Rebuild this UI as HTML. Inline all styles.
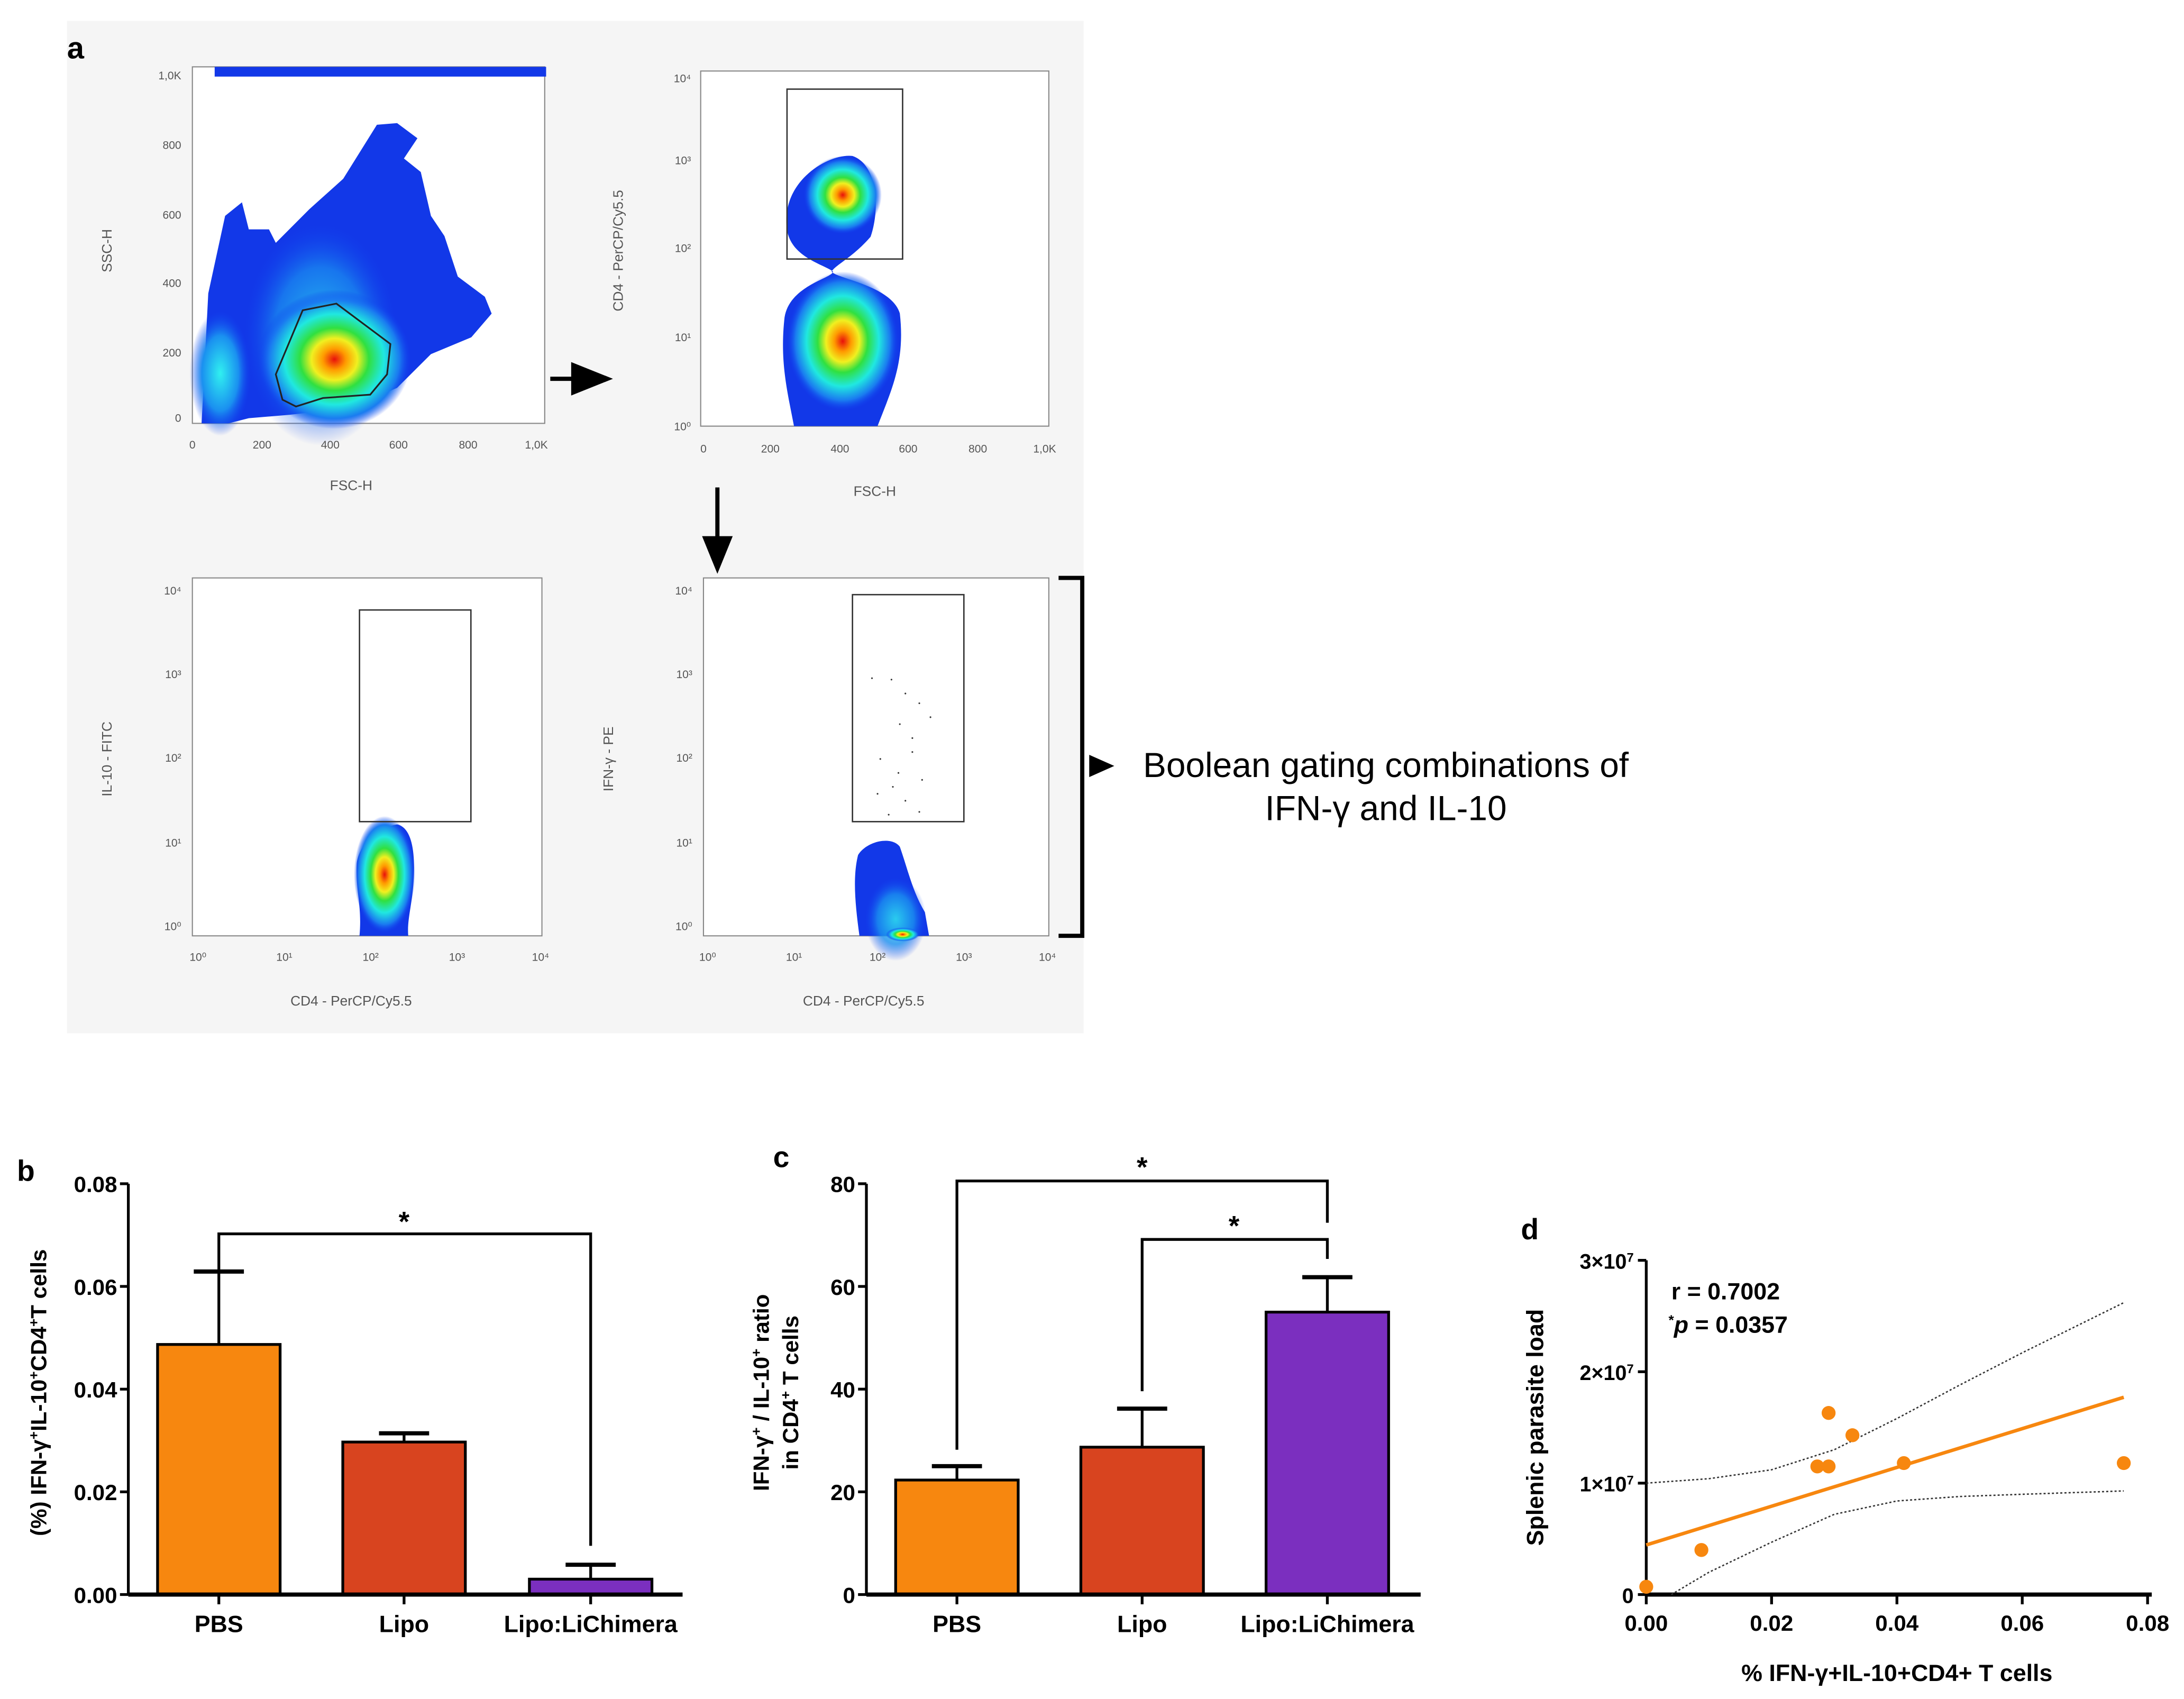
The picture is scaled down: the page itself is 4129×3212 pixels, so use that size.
<!DOCTYPE html>
<html><head><meta charset="utf-8"><style>
html,body{margin:0;padding:0;background:#fff;}
svg{display:block;}
text{font-family:"Liberation Sans",Arial,sans-serif;}
</style></head><body>
<svg id="fig" width="4129" height="3212" viewBox="0 0 1568 1220" xmlns="http://www.w3.org/2000/svg">
<defs>
<radialGradient id="jet" cx="0.5" cy="0.5" r="0.5">
<stop offset="0" stop-color="#e8100c"/><stop offset="0.15" stop-color="#ff9a00"/><stop offset="0.3" stop-color="#f0f020"/><stop offset="0.45" stop-color="#30e040"/><stop offset="0.65" stop-color="#20e8e0"/><stop offset="0.85" stop-color="#1a7cf0"/><stop offset="1" stop-color="#1040f0" stop-opacity="0"/>
</radialGradient>
<radialGradient id="jetc" cx="0.5" cy="0.5" r="0.5">
<stop offset="0" stop-color="#30f0f0"/><stop offset="0.6" stop-color="#1a90f0"/><stop offset="1" stop-color="#1040f0" stop-opacity="0"/>
</radialGradient>
</defs>

<g>
<rect x="48" y="15" width="730" height="727" fill="#f5f5f5"/>
<text x="48" y="42" font-size="22" font-weight="bold">a</text>

<g>
<rect x="138" y="48" width="253" height="256" fill="#fff" stroke="#888" stroke-width="0.8"/>
<rect x="154" y="48" width="238" height="7" fill="#1238e8"/>
<polygon fill="#1238e8" points="144.6,304 149.4,210.7 161.5,155 173.6,145.3 178.5,164.7 193,164.7 197.9,174.4 222,150.2 246.3,128.4 270.5,89.6 285,88.4 299.6,99.3 289.9,113.8 302,123.5 309.3,155 319,169.5 328.6,198.6 348,213.1 352.9,225.2 338.3,242.2 309.3,254.3 285,278.5 251.1,293 207.5,297.9 178.5,300.3 163.9,304"/>
<ellipse cx="230" cy="240" rx="55" ry="80" fill="url(#jetc)" opacity="0.7"/>
<ellipse cx="158" cy="268" rx="22" ry="45" fill="url(#jetc)"/>
<ellipse cx="240" cy="258" rx="55" ry="50" fill="url(#jet)"/>
<polygon fill="none" stroke="#222" stroke-width="1.2" points="197.9,268.8 217.2,222.8 241.4,218 280.2,247 277.8,268.8 265.7,283.4 231.8,285.8 212.4,291.9 202.7,287"/>
<g font-size="8" fill="#555">
<text x="138" y="322" text-anchor="middle">0</text><text x="188" y="322" text-anchor="middle">200</text><text x="237" y="322" text-anchor="middle">400</text><text x="286" y="322" text-anchor="middle">600</text><text x="336" y="322" text-anchor="middle">800</text><text x="385" y="322" text-anchor="middle">1,0K</text>
<text x="130" y="303" text-anchor="end">0</text><text x="130" y="256" text-anchor="end">200</text><text x="130" y="206" text-anchor="end">400</text><text x="130" y="157" text-anchor="end">600</text><text x="130" y="107" text-anchor="end">800</text><text x="130" y="57" text-anchor="end">1,0K</text>
<text x="252" y="352" text-anchor="middle" font-size="10">FSC-H</text>
<text transform="translate(80,180) rotate(-90)" text-anchor="middle" font-size="10">SSC-H</text>
</g>
</g>

<g>
<rect x="503" y="51" width="250" height="255" fill="#fff" stroke="#888" stroke-width="0.8"/>
<path fill="#1238e8" d="M565,165 C560,130 595,110 612,112 C630,118 632,150 625,170 C612,185 600,190 597,195 C600,200 640,205 646,225 C650,260 640,280 630,306 L570,306 C565,280 560,260 563,230 C565,205 598,200 598,195 C592,190 568,185 565,165 Z"/>
<ellipse cx="605" cy="140" rx="28" ry="28" fill="url(#jet)"/>
<ellipse cx="605" cy="245" rx="40" ry="50" fill="url(#jet)"/>
<rect x="565" y="64" width="83" height="122" fill="none" stroke="#333" stroke-width="1"/>
<g font-size="8" fill="#555">
<text x="505" y="325" text-anchor="middle">0</text><text x="553" y="325" text-anchor="middle">200</text><text x="603" y="325" text-anchor="middle">400</text><text x="652" y="325" text-anchor="middle">600</text><text x="702" y="325" text-anchor="middle">800</text><text x="750" y="325" text-anchor="middle">1,0K</text>
<text x="496" y="309" text-anchor="end">10⁰</text><text x="496" y="245" text-anchor="end">10¹</text><text x="496" y="181" text-anchor="end">10²</text><text x="496" y="118" text-anchor="end">10³</text><text x="496" y="59" text-anchor="end">10⁴</text>
<text x="628" y="356" text-anchor="middle" font-size="10">FSC-H</text>
<text transform="translate(447,180) rotate(-90)" text-anchor="middle" font-size="10">CD4 - PerCP/Cy5.5</text>
</g>
</g>

<g>
<rect x="138" y="415" width="251" height="257" fill="#fff" stroke="#888" stroke-width="0.8"/>
<path fill="#1238e8" d="M258,672 C260,650 255,640 256,620 C258,605 272,594 285,592 C295,594 298,610 297,630 C296,650 292,660 293,672 Z"/>
<ellipse cx="276" cy="628" rx="22" ry="42" fill="url(#jet)"/>
<rect x="258" y="438" width="80" height="152" fill="none" stroke="#333" stroke-width="1"/>
<g font-size="8" fill="#555">
<text x="142" y="690" text-anchor="middle">10⁰</text><text x="204" y="690" text-anchor="middle">10¹</text><text x="266" y="690" text-anchor="middle">10²</text><text x="328" y="690" text-anchor="middle">10³</text><text x="388" y="690" text-anchor="middle">10⁴</text>
<text x="130" y="668" text-anchor="end">10⁰</text><text x="130" y="608" text-anchor="end">10¹</text><text x="130" y="547" text-anchor="end">10²</text><text x="130" y="487" text-anchor="end">10³</text><text x="130" y="427" text-anchor="end">10⁴</text>
<text x="252" y="722" text-anchor="middle" font-size="10">CD4 - PerCP/Cy5.5</text>
<text transform="translate(80,545) rotate(-90)" text-anchor="middle" font-size="10">IL-10 - FITC</text>
</g>
</g>

<g>
<rect x="505" y="415" width="248" height="257" fill="#fff" stroke="#888" stroke-width="0.8"/>
<path fill="#1238e8" d="M617,672 C614,650 612,630 616,614 C622,604 640,600 646,608 C652,625 655,640 664,655 L667,672 Z"/>
<ellipse cx="643" cy="660" rx="22" ry="30" fill="url(#jetc)" opacity="0.8"/>
<ellipse cx="648" cy="671" rx="12" ry="5" fill="url(#jet)"/>
<rect x="612" y="427" width="80" height="163" fill="none" stroke="#333" stroke-width="1"/>
<g fill="#333">
<circle cx="626" cy="487" r="0.6"/><circle cx="640" cy="488" r="0.6"/><circle cx="650" cy="498" r="0.6"/><circle cx="660" cy="505" r="0.6"/><circle cx="646" cy="520" r="0.6"/><circle cx="655" cy="540" r="0.6"/><circle cx="632" cy="545" r="0.6"/><circle cx="662" cy="560" r="0.6"/><circle cx="641" cy="565" r="0.6"/><circle cx="650" cy="575" r="0.6"/><circle cx="660" cy="583" r="0.6"/><circle cx="638" cy="585" r="0.6"/><circle cx="655" cy="530" r="0.6"/><circle cx="645" cy="555" r="0.6"/><circle cx="668" cy="515" r="0.6"/><circle cx="630" cy="570" r="0.6"/>
</g>
<g font-size="8" fill="#555">
<text x="508" y="690" text-anchor="middle">10⁰</text><text x="570" y="690" text-anchor="middle">10¹</text><text x="630" y="690" text-anchor="middle">10²</text><text x="692" y="690" text-anchor="middle">10³</text><text x="752" y="690" text-anchor="middle">10⁴</text>
<text x="497" y="668" text-anchor="end">10⁰</text><text x="497" y="608" text-anchor="end">10¹</text><text x="497" y="547" text-anchor="end">10²</text><text x="497" y="487" text-anchor="end">10³</text><text x="497" y="427" text-anchor="end">10⁴</text>
<text x="620" y="722" text-anchor="middle" font-size="10">CD4 - PerCP/Cy5.5</text>
<text transform="translate(440,545) rotate(-90)" text-anchor="middle" font-size="10">IFN-γ - PE</text>
</g>
</g>

<g>
<line x1="395" y1="272" x2="415" y2="272" stroke="#000" stroke-width="3"/>
<polygon points="410,260 440,272 410,284" fill="#000"/>
<line x1="515" y1="350" x2="515" y2="390" stroke="#000" stroke-width="3"/>
<polygon points="504,385 515,412 526,385" fill="#000"/>
<path d="M760,415 L777,415 L777,672 L760,672" fill="none" stroke="#000" stroke-width="3"/>
<polygon points="782,542 800,550 782,558" fill="#000"/>
</g>
<text x="995" y="558" font-size="25" text-anchor="middle">Boolean gating combinations of</text>
<text x="995" y="589" font-size="25" text-anchor="middle">IFN-γ and IL-10</text>
</g>

<g id="panelB"></g>
<g id="panelC"></g>
<g id="panelD"></g>
</svg>

<script>
const NS = "http://www.w3.org/2000/svg";
const bCategories = ["PBS", "Lipo", "Lipo:LiChimera"];
const bValues = [0.0487, 0.0297, 0.003];
const bErrors = [0.0142, 0.0017, 0.0028];
const bTicks = [0, 0.02, 0.04, 0.06, 0.08];
const bTickLabels = ["0.00", "0.02", "0.04", "0.06", "0.08"];
const cCategories = ["PBS", "Lipo", "Lipo:LiChimera"];
const cValues = [22.3, 28.7, 55.0];
const cErrors = [2.7, 7.5, 6.8];
const cTicks = [0, 20, 40, 60, 80];
const cTickLabels = ["0", "20", "40", "60", "80"];
const dX = [0.0, 0.0088, 0.0273, 0.0291, 0.0291, 0.0329, 0.0411, 0.0762];
const dY = [0.07e7, 0.40e7, 1.15e7, 1.15e7, 1.63e7, 1.43e7, 1.18e7, 1.18e7];
const dFitIntercept = 0.445e7;
const dFitSlope = 1.74e8;
const dUpperX = [0, 0.01, 0.02, 0.03, 0.04, 0.05, 0.06, 0.0762];
const dUpperY = [1.0e7, 1.04e7, 1.12e7, 1.3e7, 1.58e7, 1.88e7, 2.17e7, 2.62e7];
const dLowerX = [0.004, 0.01, 0.02, 0.03, 0.04, 0.05, 0.06, 0.0762];
const dLowerY = [0, 0.2e7, 0.47e7, 0.72e7, 0.84e7, 0.88e7, 0.9e7, 0.93e7];
const dXTicks = [0, 0.02, 0.04, 0.06, 0.08];
const dXTickLabels = ["0.00", "0.02", "0.04", "0.06", "0.08"];
const dYTicks = [0, 1e7, 2e7, 3e7];
const dYTickLabels = ["0", "1×10", "2×10", "3×10"];
const barColors = ["#f7870f", "#d8441f", "#7b2fbf"];

function mk(tag, attrs, parent, text) {
  const e = document.createElementNS(NS, tag);
  for (const k in attrs) e.setAttribute(k, attrs[k]);
  if (text !== undefined) e.textContent = text;
  parent.appendChild(e);
  return e;
}

function barChart(g, axX, yTop, yBot, xEnd, cats, vals, errs, ticks, tlabels, maxV, centers, prefix) {
  const ys = v => yBot - (v / maxV) * (yBot - yTop);
  let e;
  e = mk("line", {x1: axX, y1: yTop, x2: axX, y2: yBot, stroke: "#000", "stroke-width": 2}, g);
  
  
  ticks.forEach((t, i) => {
    mk("line", {x1: axX - 6, y1: ys(t), x2: axX, y2: ys(t), stroke: "#000", "stroke-width": 2}, g);
    e = mk("text", {x: axX - 8, y: ys(t) + 6, "font-size": 16, "font-weight": "bold", "text-anchor": "end"}, g, tlabels[i]);
    
    
  });
  cats.forEach((c, i) => {
    const cx = centers[i], w = 88;
    e = mk("line", {x1: cx, y1: ys(vals[i]), x2: cx, y2: ys(vals[i] + errs[i]), stroke: "#000", "stroke-width": 2}, g);
    
    
    mk("line", {x1: cx - 18, y1: ys(vals[i] + errs[i]), x2: cx + 18, y2: ys(vals[i] + errs[i]), stroke: "#000", "stroke-width": 3}, g);
    e = mk("rect", {x: cx - w / 2, y: ys(vals[i]), width: w, height: yBot - ys(vals[i]), fill: barColors[i], stroke: "#000", "stroke-width": 2}, g);
    
    
    mk("line", {x1: cx, y1: yBot, x2: cx, y2: yBot + 7, stroke: "#000", "stroke-width": 2}, g);
    e = mk("text", {x: cx, y: yBot + 27, "font-size": 17, "font-weight": "bold", "text-anchor": "middle"}, g, c);
    
    
  });
  e = mk("line", {x1: axX, y1: yBot, x2: xEnd, y2: yBot, stroke: "#000", "stroke-width": 3}, g);
  
  
  return ys;
}

(function () {
  const g = document.getElementById("panelB");
  const centers = [157, 290, 424];
  const ys = barChart(g, 92, 850, 1145, 490, bCategories, bValues, bErrors, bTicks, bTickLabels, 0.08, centers, "b");
  let e = mk("text", {x: 12, y: 848, "font-size": 21, "font-weight": "bold"}, g, "b");
  
  
  e = mk("text", {transform: "translate(33,1000) rotate(-90)", "font-size": 16, "font-weight": "bold", "text-anchor": "middle"}, g);
  e.innerHTML = '(%) IFN-γ<tspan baseline-shift="super" font-size="10">+</tspan>IL-10<tspan baseline-shift="super" font-size="10">+</tspan>CD4<tspan baseline-shift="super" font-size="10">+</tspan>T cells';
  
  
  const top = ys(bValues[0] + bErrors[0]);
  e = mk("path", {d: `M157,${top} L157,886 L424,886 L424,1110`, fill: "none", stroke: "#000", "stroke-width": 2}, g);
  
  
  e = mk("text", {x: 290, y: 884, "font-size": 20, "font-weight": "bold", "text-anchor": "middle"}, g, "*");
  
  
})();

(function () {
  const g = document.getElementById("panelC");
  const centers = [687, 820, 953];
  barChart(g, 622, 850, 1145, 1020, cCategories, cValues, cErrors, cTicks, cTickLabels, 80, centers, "c");
  let e = mk("text", {x: 555, y: 838, "font-size": 21, "font-weight": "bold"}, g, "c");
  
  
  e = mk("text", {transform: "translate(552,1000) rotate(-90)", "font-size": 16, "font-weight": "bold", "text-anchor": "middle"}, g);
  e.innerHTML = 'IFN-γ<tspan baseline-shift="super" font-size="10">+</tspan> / IL-10<tspan baseline-shift="super" font-size="10">+</tspan> ratio';
  
  
  e = mk("text", {transform: "translate(573,1000) rotate(-90)", "font-size": 16, "font-weight": "bold", "text-anchor": "middle"}, g);
  e.innerHTML = 'in CD4<tspan baseline-shift="super" font-size="10">+</tspan> T cells';
  
  
  e = mk("path", {d: "M687,1041 L687,848 L953,848 L953,878", fill: "none", stroke: "#000", "stroke-width": 2}, g);
  
  
  e = mk("path", {d: "M820,999 L820,890 L953,890 L953,904", fill: "none", stroke: "#000", "stroke-width": 2}, g);
  
  
  e = mk("text", {x: 820, y: 845, "font-size": 20, "font-weight": "bold", "text-anchor": "middle"}, g, "*");
  
  
  e = mk("text", {x: 886, y: 887, "font-size": 20, "font-weight": "bold", "text-anchor": "middle"}, g, "*");
  
  
})();

(function () {
  const g = document.getElementById("panelD");
  const x0 = 1182, x1 = 1542, yB = 1145, yT = 905;
  const xs = v => x0 + (v / 0.08) * (x1 - x0);
  const ys = v => yB - (v / 3e7) * (yB - yT);
  let e = mk("text", {x: 1092, y: 890, "font-size": 21, "font-weight": "bold"}, g, "d");
  
  
  e = mk("line", {x1: x0, y1: yT, x2: x0, y2: yB, stroke: "#000", "stroke-width": 2}, g);
  
  
  dYTicks.forEach((t, i) => {
    mk("line", {x1: x0 - 6, y1: ys(t), x2: x0, y2: ys(t), stroke: "#000", "stroke-width": 2}, g);
    e = mk("text", {x: x0 - 9, y: ys(t) + 6, "font-size": 15, "font-weight": "bold", "text-anchor": "end"}, g);
    e.innerHTML = i === 0 ? dYTickLabels[i] : dYTickLabels[i] + '<tspan baseline-shift="super" font-size="9">7</tspan>';
    
    
  });
  dXTicks.forEach((t, i) => {
    mk("line", {x1: xs(t), y1: yB, x2: xs(t), y2: yB + 7, stroke: "#000", "stroke-width": 2}, g);
    e = mk("text", {x: xs(t), y: yB + 26, "font-size": 16, "font-weight": "bold", "text-anchor": "middle"}, g, dXTickLabels[i]);
    
    
  });
  e = mk("line", {x1: x0, y1: yB, x2: 1545, y2: yB, stroke: "#000", "stroke-width": 3}, g);
  
  
  e = mk("text", {x: 1362, y: 1207, "font-size": 17, "font-weight": "bold", "text-anchor": "middle"}, g, "% IFN-γ+IL-10+CD4+ T cells");
  
  
  e = mk("text", {transform: "translate(1108,1025) rotate(-90)", "font-size": 17, "font-weight": "bold", "text-anchor": "middle"}, g, "Splenic parasite load");
  
  
  e = mk("polyline", {points: dUpperX.map((x, i) => xs(x) + "," + ys(dUpperY[i])).join(" "), fill: "none", stroke: "#333", "stroke-width": 1, "stroke-dasharray": "1.5,1.5"}, g);
  
  
  e = mk("polyline", {points: dLowerX.map((x, i) => xs(x) + "," + ys(dLowerY[i])).join(" "), fill: "none", stroke: "#333", "stroke-width": 1, "stroke-dasharray": "1.5,1.5"}, g);
  
  
  const xmax = Math.max(...dX);
  e = mk("line", {x1: xs(0), y1: ys(dFitIntercept), x2: xs(xmax), y2: ys(dFitIntercept + dFitSlope * xmax), stroke: "#f7870f", "stroke-width": 2.5}, g);
  
  
  dX.forEach((x, i) => {
    const c = mk("circle", {cx: xs(x), cy: ys(dY[i]), r: 5, fill: "#f7870f"}, g);
    
    
  });
  e = mk("text", {x: 1200, y: 933, "font-size": 17, "font-weight": "bold"}, g, "r = 0.7002");
  
  
  e = mk("text", {x: 1198, y: 957, "font-size": 17, "font-weight": "bold"}, g);
  e.innerHTML = '<tspan baseline-shift="super" font-size="10">*</tspan><tspan font-style="italic">p</tspan> = 0.0357';
  
  
})();
</script>
</body></html>
